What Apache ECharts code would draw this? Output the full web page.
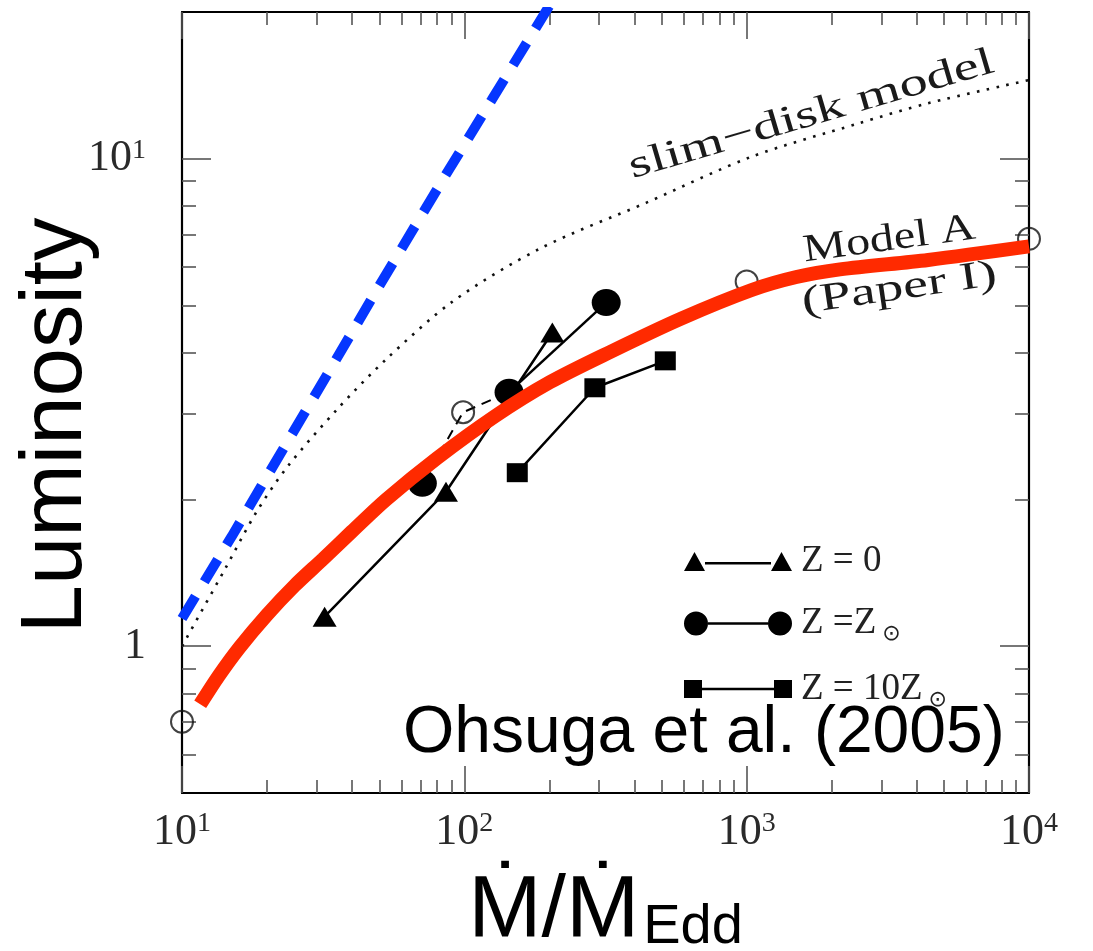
<!DOCTYPE html>
<html><head><meta charset="utf-8">
<script src="https://cdn.jsdelivr.net/npm/echarts@6/dist/echarts.min.js"></script>
<style>html,body{margin:0;padding:0;background:#fff}#c{width:1093px;height:951px}</style>
</head><body><div id="c"></div>
<script>
// ---- axes ----
const xRange = [10, 10000];
const yRange = [0.5, 20];
const xMajorTicks = [10, 100, 1000, 10000];
const xMajorLabels = ['10{sup|1}', '10{sup|2}', '10{sup|3}', '10{sup|4}'];
const xMinorTicks = [20, 30, 40, 50, 60, 70, 80, 90, 200, 300, 400, 500, 600, 700, 800, 900, 2000, 3000, 4000, 5000, 6000, 7000, 8000, 9000];
const yMajorTicks = [1, 10];
const yMajorLabels = ['1', '10{sup|1}'];
const yMinorTicks = [0.6, 0.7, 0.8, 0.9, 2, 3, 4, 5, 6, 7, 8, 9];

// ---- curves ----
const blueX = [10, 15, 20, 35, 50, 85, 125, 200];
const blueY = [1.14, 1.68, 2.23, 3.86, 5.49, 9.17, 13.2, 20.6];
const slimX = [10, 14.2, 18.3, 23.7, 35.4, 52.9, 91.1, 186, 440, 1042, 2472, 4395, 10000];
const slimY = [1.0, 1.44, 1.88, 2.34, 3.06, 3.88, 5.10, 6.55, 8.12, 10.1, 11.8, 13.0, 14.5];
const modelAX = [11.6, 13.5, 16, 20, 25, 31.6, 40, 52.9, 80, 128, 201, 330, 586, 1042, 1500, 2140, 4395, 10000];
const modelAY = [0.76, 0.87, 0.995, 1.16, 1.33, 1.51, 1.72, 2.0, 2.43, 2.96, 3.48, 4.02, 4.70, 5.38, 5.72, 5.93, 6.2, 6.61];
// open circles (Paper I points)
const paperX = [10, 99, 1000, 10000];
const paperY = [0.70, 3.02, 5.60, 6.85];
// thin dashed link
const linkX = [71, 99, 144];
const linkY = [2.16, 3.02, 3.32];
// metallicity runs
const z0X = [32.0, 86.1, 205];
const z0Y = [1.15, 2.075, 4.40];
const zsunX = [71, 100, 144, 318];
const zsunY = [2.16, null, 3.32, 5.07];
const z10X = [154, 290, 515];
const z10Y = [2.27, 3.39, 3.85];

const seriesNames = ['Z=0', 'Z=Z\u2299', 'Z=10Z\u2299'];
const legendLabels = ['Z = 0', 'Z =Z{sub|\u2299}', 'Z = 10Z{sub|\u2299}'];

const zip = (a, b) => a.map((v, i) => [v, b[i]]);
const SERIF = 'Liberation Serif';
const SANS = 'Liberation Sans';

function pick(ticks, labels) {
  return function (v) {
    for (let i = 0; i < ticks.length; i++) {
      if (Math.abs(Math.log10(v) - Math.log10(ticks[i])) < 1e-6) return labels[i];
    }
    return '';
  };
}
const tickLabelStyle = {
  fontFamily: SERIF, fontSize: 44, color: '#2a2a2a',
  rich: { sup: { fontFamily: SERIF, fontSize: 28, color: '#2a2a2a', verticalAlign: 'top' } }
};

function axis(kind, pos, ticks, len, major, extra) {
  const r = kind === 'x' ? xRange : yRange;
  return Object.assign({
    type: 'log', logBase: 10, min: r[0], max: r[1], position: pos,
    axisLine: { show: major, onZero: false, lineStyle: { color: '#000', width: 2.2 } },
    axisTick: { show: true, inside: true, length: len, customValues: ticks, lineStyle: { color: '#555', width: 1.6 } },
    axisLabel: { show: false },
    splitLine: { show: false },
    minorTick: { show: false }, minorSplitLine: { show: false }
  }, extra || {});
}

const chart = echarts.init(document.getElementById('c'), null, { renderer: 'canvas' });
chart.setOption({
  animation: false,
  backgroundColor: '#fff',
  grid: { left: 182, right: 64, top: 12, bottom: 158, containLabel: false, outerBoundsMode: 'none' },
  xAxis: [
    axis('x', 'bottom', xMajorTicks, 27, true, {
      axisLabel: Object.assign({ show: true, margin: 17, customValues: xMajorTicks, formatter: pick(xMajorTicks, xMajorLabels) }, tickLabelStyle),
      name: '{m|\u1E40/\u1E40}{sub|Edd}', nameLocation: 'middle', nameGap: 75, nameMoveOverlap: false,
      nameTextStyle: {
        rich: {
          m: { fontFamily: SANS, fontSize: 88, lineHeight: 88, color: '#000', verticalAlign: 'bottom' },
          sub: { fontFamily: SANS, fontSize: 56, lineHeight: 56, color: '#000', verticalAlign: 'bottom', padding: [0, 0, 0, 4] }
        }
      }
    }),
    axis('x', 'bottom', xMinorTicks, 13, false),
    axis('x', 'top', xMajorTicks, 27, true),
    axis('x', 'top', xMinorTicks, 13, false)
  ],
  yAxis: [
    axis('y', 'left', yMajorTicks, 29, true, {
      axisLabel: Object.assign({ show: true, margin: 36, customValues: yMajorTicks, formatter: pick(yMajorTicks, yMajorLabels) }, tickLabelStyle),
      name: 'Luminosity', nameLocation: 'middle', nameGap: 81, nameRotate: 90, nameMoveOverlap: false,
      nameTextStyle: { fontFamily: SANS, fontSize: 87, color: '#000', padding: [0, 46, 0, 0] }
    }),
    axis('y', 'left', yMinorTicks, 14, false),
    axis('y', 'right', yMajorTicks, 29, true),
    axis('y', 'right', yMinorTicks, 14, false)
  ],
  legend: {
    orient: 'vertical', left: 679, top: 538, itemWidth: 108, itemHeight: 24, itemGap: 25,
    selectedMode: false, symbolKeepAspect: true,
    formatter: function (n) { return legendLabels[seriesNames.indexOf(n)]; },
    textStyle: {
      fontFamily: SERIF, fontSize: 37, color: '#222', lineHeight: 24, padding: [0, 0, 0, 4],
      rich: { sub: { fontFamily: 'DejaVu Sans', fontSize: 22, color: '#222', padding: [22, 0, 0, 6] } }
    },
    data: [
      { name: seriesNames[0], icon: 'path://M0,19 L10.5,0 L21,19 Z M21,10 L87,10 L87,12.4 L21,12.4 Z M87,19 L97.5,0 L108,19 Z' },
      { name: seriesNames[1], icon: 'path://M0,12 A12,12 0 1,1 24,12 A12,12 0 1,1 0,12 Z M24,10.8 L84,10.8 L84,13.2 L24,13.2 Z M84,12 A12,12 0 1,1 108,12 A12,12 0 1,1 84,12 Z' },
      { name: seriesNames[2], icon: 'path://M0,0 L18,0 L18,18 L0,18 Z M18,7.8 L90,7.8 L90,10.2 L18,10.2 Z M90,0 L108,0 L108,18 L90,18 Z' }
    ]
  },
  graphic: [
    { type: 'text', x: 629.6, y: 168.5, rotation: 16.4 * Math.PI / 180, scaleX: 1.45, z: 10,
      style: { text: 'slim\u2212disk model', fontFamily: SERIF, fontSize: 39, fill: '#1a1a1a', align: 'left', verticalAlign: 'middle' } },
    { type: 'text', x: 803.4, y: 251.4, rotation: 7.7 * Math.PI / 180, scaleX: 1.24, z: 10,
      style: { text: 'Model A', fontFamily: SERIF, fontSize: 39, fill: '#1a1a1a', align: 'left', verticalAlign: 'middle' } },
    { type: 'text', x: 802, y: 303, rotation: 8.3 * Math.PI / 180, scaleX: 1.43, z: 10,
      style: { text: '(Paper I)', fontFamily: SERIF, fontSize: 39, fill: '#1a1a1a', align: 'left', verticalAlign: 'middle' } },
    { type: 'text', x: 403, y: 734, z: 10,
      style: { text: 'Ohsuga et al. (2005)', fontFamily: SANS, fontSize: 66, fill: '#000', align: 'left', verticalAlign: 'middle' } }
  ],
  series: [
    { type: 'line', name: 'blue', data: zip(blueX, blueY), showSymbol: false, symbol: 'none', z: 2, clip: true,
      lineStyle: { color: '#0536ff', width: 10, type: [26, 17], cap: 'butt' } },
    { type: 'line', name: 'slim', data: zip(slimX, slimY), showSymbol: false, symbol: 'none', smooth: 0.3, z: 2,
      lineStyle: { color: '#111', width: 2.6, type: [2.6, 7.4], cap: 'butt' } },
    { type: 'line', name: 'link', data: zip(linkX, linkY), showSymbol: false, symbol: 'none', z: 2,
      lineStyle: { color: '#000', width: 2, type: [10, 7] } },
    { type: 'scatter', name: 'paper', data: zip(paperX, paperY), symbol: 'circle', symbolSize: 22, z: 2,
      itemStyle: { color: 'rgba(0,0,0,0)', borderColor: '#111', borderWidth: 2 } },
    { type: 'line', name: seriesNames[0], data: zip(z0X, z0Y), symbol: 'triangle', symbolSize: [24, 20], showAllSymbol: true, z: 3,
      itemStyle: { color: '#000' }, lineStyle: { color: '#000', width: 2.5 } },
    { type: 'line', name: seriesNames[1], data: zip(zsunX, zsunY), symbol: 'circle', symbolSize: [29, 27], showAllSymbol: true, connectNulls: false, z: 3,
      itemStyle: { color: '#000' }, lineStyle: { color: '#000', width: 2.5 } },
    { type: 'line', name: seriesNames[2], data: zip(z10X, z10Y), symbol: 'rect', symbolSize: [21, 19], showAllSymbol: true, z: 3,
      itemStyle: { color: '#000' }, lineStyle: { color: '#000', width: 2.5 } },
    { type: 'line', name: 'modelA', data: zip(modelAX, modelAY), showSymbol: false, symbol: 'none', smooth: 0.3, z: 5,
      lineStyle: { color: '#ff2a00', width: 14, cap: 'butt' } }
  ]
});
</script></body></html>
